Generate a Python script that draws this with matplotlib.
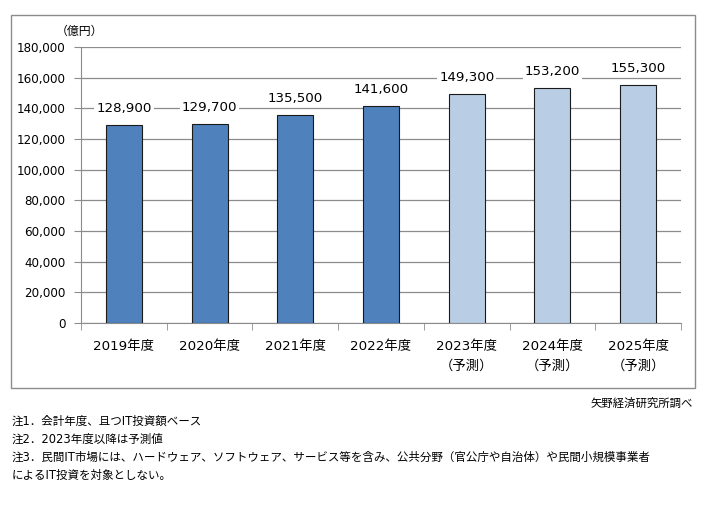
import matplotlib
matplotlib.use("Agg")
import matplotlib.pyplot as plt
from matplotlib.patches import Rectangle
from matplotlib.ticker import FuncFormatter, MultipleLocator

plt.rcParams['font.family'] = ['DejaVu Sans', 'Noto Sans CJK JP']

years = ['2019年度', '2020年度', '2021年度', '2022年度', '2023年度\n（予測）', '2024年度\n（予測）', '2025年度\n（予測）']
values = [128900, 129700, 135500, 141600, 149300, 153200, 155300]
forecast = [False, False, False, False, True, True, True]
notes = ['注1．会計年度、且つIT投資額ベース',
         '注2．2023年度以降は予測値',
         '注3．民間IT市場には、ハードウェア、ソフトウェア、サービス等を含み、公共分野（官公庁や自治体）や民間小規模事業者',
         'によるIT投資を対象としない。']

fig = plt.figure(figsize=(7.06, 5.07), dpi=100)
W, H = 706, 507

# outer frame
fig.patches.append(Rectangle((11 / W, 1 - 388 / H), (695 - 11) / W, (388 - 15) / H,
                             transform=fig.transFigure, fill=False, edgecolor='#8c8c8c', linewidth=1.0))

ax = fig.add_axes([81 / W, 1 - 323 / H, (681 - 81) / W, (323 - 47) / H])
x = range(len(values))
colors = ['#B9CDE5' if f else '#4F81BD' for f in forecast]
bars = ax.bar(x, values, width=0.42, color=colors, edgecolor='#1a1a1a', linewidth=0.8, zorder=3)

for xi, v in zip(x, values):
    ax.text(xi, v + 11000, f'{v:,}', ha='center', va='center', fontsize=9.6, zorder=4,
            bbox=dict(facecolor='white', edgecolor='none', pad=1.5))

ax.set_xlim(-0.5, len(values) - 0.5)
ax.set_ylim(0, 180000)
ax.yaxis.set_major_locator(MultipleLocator(20000))
ax.yaxis.set_major_formatter(FuncFormatter(lambda v, p: f'{int(v):,}'))
ax.grid(axis='y', color='#8c8c8c', linewidth=0.9, zorder=0)
ax.set_axisbelow(True)

ax.set_xticks(list(x))
ax.set_xticklabels(years, fontsize=9.6, linespacing=1.75)
ax.set_xticks([i - 0.5 for i in range(len(values) + 1)], minor=True)
ax.tick_params(axis='x', which='major', length=0, pad=12)
ax.tick_params(axis='x', which='minor', length=5, color='#8c8c8c', direction='out')
ax.tick_params(axis='y', labelsize=8.6, length=5, color='#8c8c8c', pad=6)
for side in ['top', 'right']:
    ax.spines[side].set_visible(False)
for side in ['left', 'bottom']:
    ax.spines[side].set_color('#8c8c8c')

fig.text(79 / W, 1 - 31 / H, '（億円）', ha='center', va='center', fontsize=8.6)

fig.text(693 / W, 1 - 403 / H, '矢野経済研究所調べ', ha='right', va='center', fontsize=8.2)
for i, n in enumerate(notes):
    fig.text(12 / W, 1 - (421 + 18 * i) / H, n, ha='left', va='center', fontsize=8.3)

fig.savefig('out.png', dpi=100)
